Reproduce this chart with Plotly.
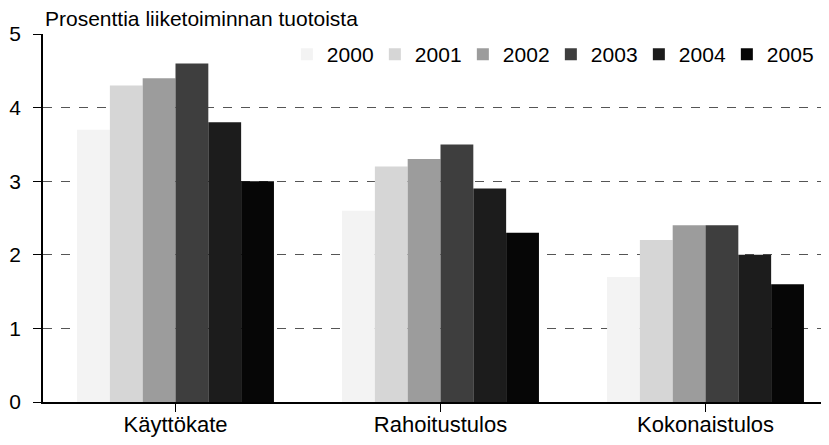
import plotly.graph_objects as go

categories = ["Käyttökate", "Rahoitustulos", "Kokonaistulos"]
years = ["2000", "2001", "2002", "2003", "2004", "2005"]
values_2000 = [3.7, 2.6, 1.7]
values_2001 = [4.3, 3.2, 2.2]
values_2002 = [4.4, 3.3, 2.4]
values_2003 = [4.6, 3.5, 2.4]
values_2004 = [3.8, 2.9, 2.0]
values_2005 = [3.0, 2.3, 1.6]
y_ticks = [0, 1, 2, 3, 4, 5]

series = [values_2000, values_2001, values_2002, values_2003, values_2004, values_2005]
colors = ["#f3f3f3", "#d6d6d6", "#9c9c9c", "#3e3e3e", "#1c1c1c", "#060606"]

fig = go.Figure()
for year, vals, col in zip(years, series, colors):
    fig.add_trace(go.Bar(x=categories, y=vals, name=year,
                         marker=dict(color=col, line=dict(width=0))))

# page body has an 8px margin, so the figure is 8px smaller than the window
fig.update_layout(
    width=821, height=437,
    margin=dict(l=35, r=0, t=26, b=43),
    paper_bgcolor="white", plot_bgcolor="white",
    font=dict(family="Liberation Sans, Arial", size=20, color="black"),
    barmode="group", bargap=0.257, bargroupgap=0,
    showlegend=True,
    legend=dict(orientation="h", x=0.982, xanchor="right", y=1.0, yanchor="top",
                bgcolor="rgba(0,0,0,0)", font=dict(size=21),
                itemwidth=30, entrywidth=43, entrywidthmode="pixels",
                traceorder="normal"),
    annotations=[dict(text="Prosenttia liiketoiminnan tuotoista", x=0, y=1,
                      xref="paper", yref="paper", xanchor="left", yanchor="bottom",
                      yshift=2, showarrow=False, font=dict(size=21))],
)
fig.update_xaxes(range=[-0.5, 2.466], showline=True, linecolor="black", linewidth=1.5,
                 ticks="outside", ticklen=8, tickcolor="black", showgrid=False,
                 tickfont=dict(size=22), ticklabelstandoff=-6)
fig.update_yaxes(range=[0, 5], tickvals=y_ticks, showline=True, linecolor="black",
                 linewidth=1.5, ticks="outside", ticklen=8, tickcolor="black",
                 showgrid=True, gridcolor="#555555", griddash="dash", gridwidth=1,
                 zeroline=False, tickfont=dict(size=21), ticklabelstandoff=8)

fig.write_html("out.html")
